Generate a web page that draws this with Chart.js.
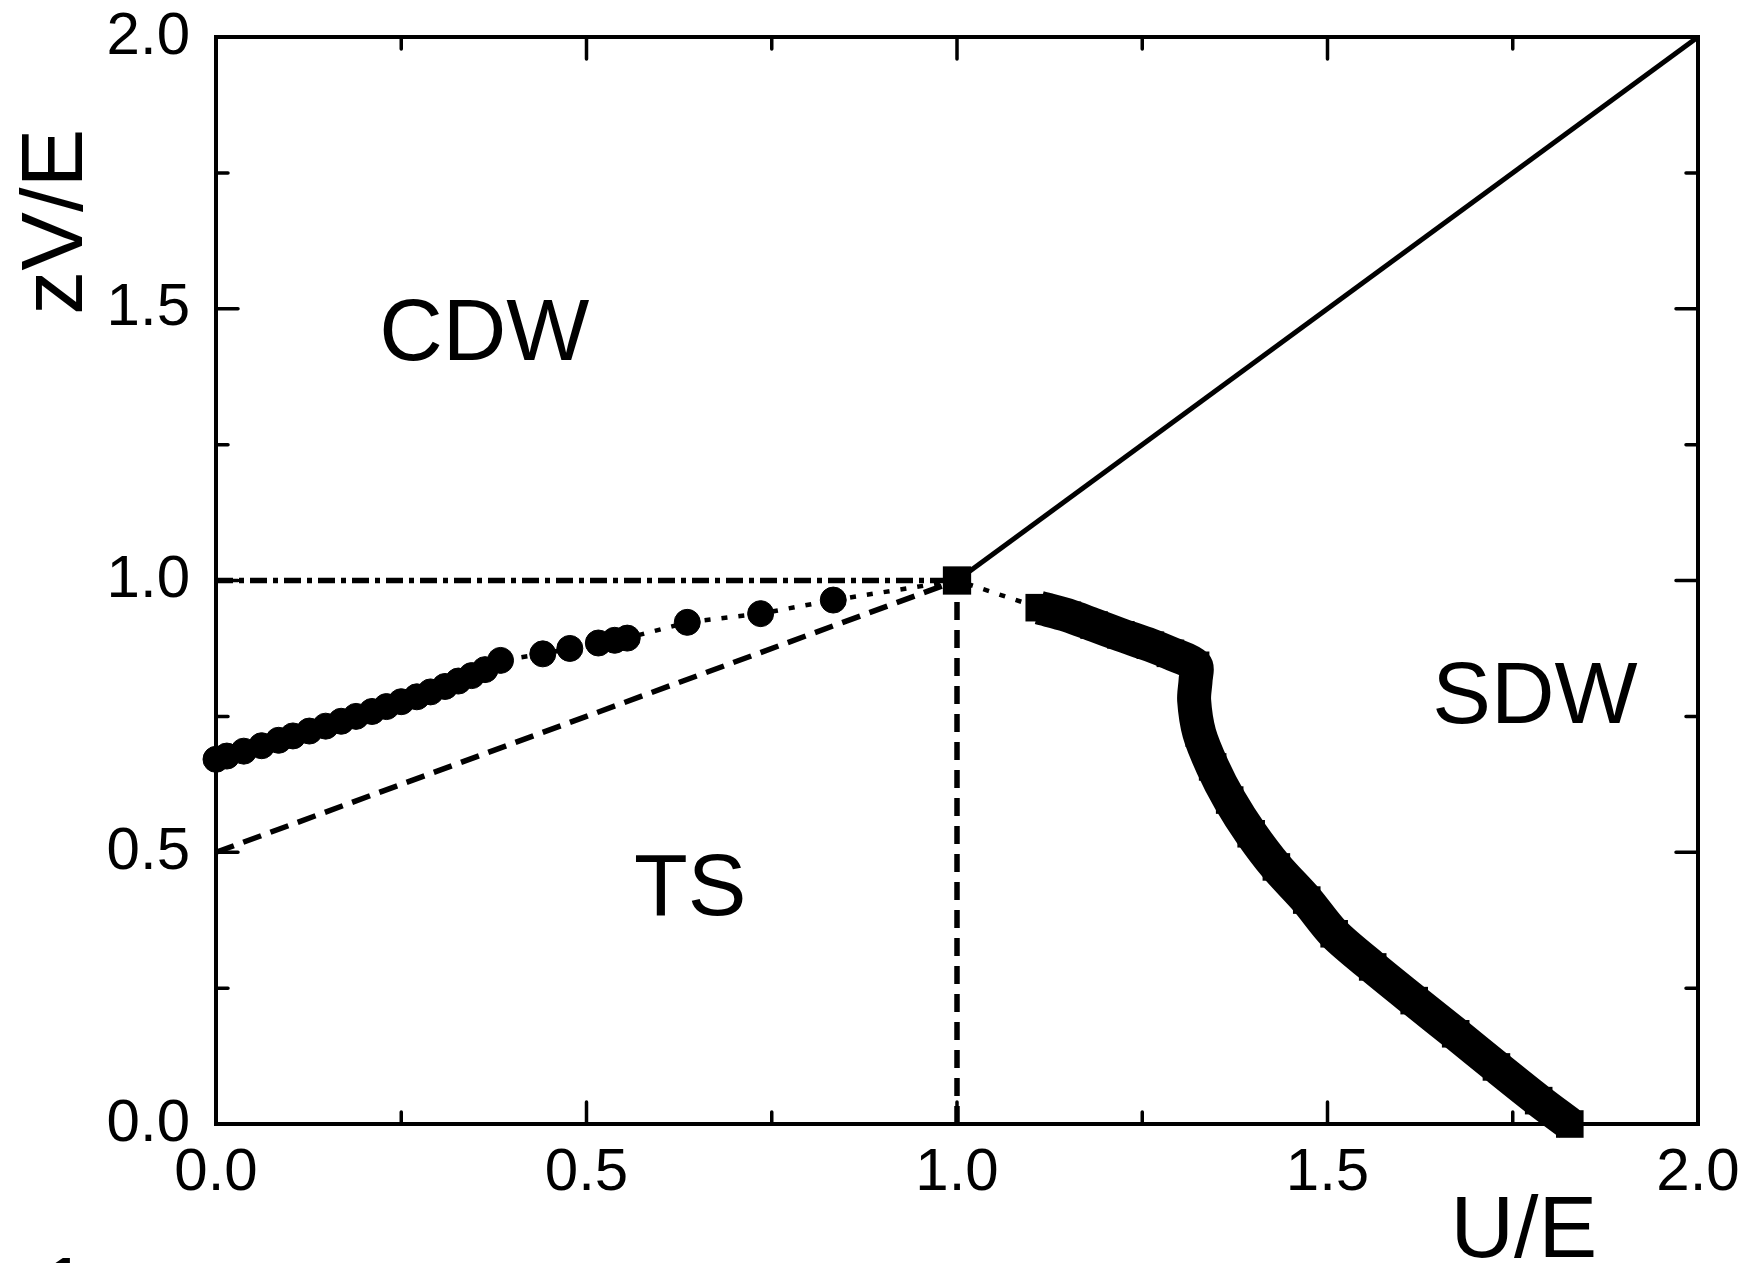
<!DOCTYPE html>
<html>
<head>
<meta charset="utf-8">
<title>Phase diagram</title>
<script src="https://cdn.jsdelivr.net/npm/chart.js@4.4.1/dist/chart.umd.min.js"></script>
<style>
  html, body { margin: 0; padding: 0; background: #fff; }
  #wrap { width: 1747px; height: 1263px; }
</style>
</head>
<body>
<div id="wrap"><canvas id="phaseChart" width="1747" height="1263"></canvas></div>
<script>

// axis ticks
const xTicks = [0, 0.5, 1, 1.5, 2];
const xTickLabels = ['0.0', '0.5', '1.0', '1.5', '2.0'];
const yTicks = [0, 0.5, 1, 1.5, 2];
const yTickLabels = ['0.0', '0.5', '1.0', '1.5', '2.0'];
const minorTicks = [0.25, 0.75, 1.25, 1.75];

// CDW / SDW boundary (solid)
const solidU = [1, 2];
const solidV = [1, 2];

// dash-dot line zV/E = 1
const dashDotU = [0, 1];
const dashDotV = [1, 1];

// dashed lines
const dashedU = [0, 1];
const dashedV = [0.5, 1];
const vertU = [1, 1];
const vertV = [0, 1];

// circles (dotted)
const circleU = [0, 0.0146, 0.0375, 0.0616, 0.0845, 0.1038, 0.126, 0.148, 0.169, 0.189,
  0.2105, 0.230, 0.250, 0.271, 0.2895, 0.309, 0.327, 0.345, 0.363, 0.384,
  0.441, 0.4775, 0.516, 0.538, 0.555, 0.636, 0.735, 0.833];
const circleV = [0.671, 0.677, 0.686, 0.696, 0.706, 0.714, 0.723, 0.732, 0.741, 0.750,
  0.759, 0.768, 0.777, 0.786, 0.795, 0.805, 0.815, 0.825, 0.836, 0.853,
  0.865, 0.875, 0.885, 0.890, 0.894, 0.923, 0.939, 0.964];

// dotted link through the tricritical point
const linkU = [0.833, 1, 1.111];
const linkV = [0.964, 1, 0.950];

// square at (1,1)
const squareU = [1];
const squareV = [1];

// SDW boundary (thick squares)
const sdwU = [1.111, 1.149, 1.185, 1.221, 1.261, 1.288, 1.322, 1.322, 1.320, 1.327,
  1.345, 1.368, 1.397, 1.431, 1.472, 1.509, 1.561, 1.617, 1.673, 1.728, 1.785, 1.827];
const sdwV = [0.950, 0.936, 0.918, 0.900, 0.881, 0.866, 0.844, 0.817, 0.780, 0.719,
  0.657, 0.596, 0.534, 0.473, 0.412, 0.350, 0.289, 0.227, 0.166, 0.105, 0.043, 0.0];

const pts = (us, vs) => us.map((u, i) => ({ x: u, y: vs[i] }));

const FONT = '"Liberation Sans", Arial, sans-serif';

const regionLabels = [
  { text: 'CDW', u: 0.362, v: 1.406 },
  { text: 'TS', u: 0.640, v: 0.384 },
  { text: 'SDW', u: 1.780, v: 0.738 }
];

const framePlugin = {
  id: 'frame',
  beforeDatasetsDraw(chart) {
    const { ctx, chartArea: a, scales: { x, y } } = chart;
    ctx.save();
    ctx.strokeStyle = '#000';
    ctx.lineWidth = 4;
    ctx.strokeRect(a.left, a.top, a.right - a.left, a.bottom - a.top);
    ctx.lineWidth = 3.5;
    ctx.lineCap = 'round';
    const markX = (vals, len) => vals.forEach(v => {
      const px = x.getPixelForValue(v);
      ctx.beginPath();
      ctx.moveTo(px, a.bottom); ctx.lineTo(px, a.bottom - len);
      ctx.moveTo(px, a.top); ctx.lineTo(px, a.top + len);
      ctx.stroke();
    });
    const markY = (vals, len) => vals.forEach(v => {
      const py = y.getPixelForValue(v);
      ctx.beginPath();
      ctx.moveTo(a.left, py); ctx.lineTo(a.left + len, py);
      ctx.moveTo(a.right, py); ctx.lineTo(a.right - len, py);
      ctx.stroke();
    });
    markX(xTicks, 22); markX(minorTicks, 12);
    markY(yTicks, 22); markY(minorTicks, 12);
    ctx.restore();
  },
  afterDraw(chart) {
    const { ctx, chartArea: a, scales: { x, y } } = chart;
    ctx.save();
    ctx.fillStyle = '#000';
    ctx.font = '88px ' + FONT;
    ctx.textAlign = 'center';
    ctx.textBaseline = 'alphabetic';
    regionLabels.forEach(l => ctx.fillText(l.text, x.getPixelForValue(l.u), y.getPixelForValue(l.v)));
    ctx.fillText('U/E', x.getPixelForValue(1.765), a.bottom + 133);
    ctx.save();
    ctx.translate(82, y.getPixelForValue(1.66));
    ctx.rotate(-Math.PI / 2);
    ctx.fillText('zV/E', 0, 0);
    ctx.restore();
    ctx.textAlign = 'left';
    ctx.fillText('1', 40, 1318);
    ctx.restore();
  }
};

const lineSet = (data, width, dash) => ({
  data, showLine: true, borderColor: '#000', borderWidth: width, borderDash: dash,
  pointRadius: 0, fill: false, clip: false
});

new Chart(document.getElementById('phaseChart'), {
  type: 'scatter',
  data: {
    datasets: [
      lineSet(pts(solidU, solidV), 5, []),
      lineSet(pts(dashDotU, dashDotV), 5.5, [17, 6, 5, 6]),
      lineSet(pts(dashedU, dashedV), 5.5, [19, 10]),
      lineSet(pts(vertU, vertV), 5.5, [18, 10]),
      lineSet(pts(linkU, linkV), 4.5, [6, 11]),
      {
        data: pts(circleU, circleV), showLine: true, borderColor: '#000', borderWidth: 4.5,
        borderDash: [6, 11], pointStyle: 'circle', pointRadius: 13, pointBorderWidth: 1,
        pointBackgroundColor: '#000', pointBorderColor: '#000', clip: false
      },
      {
        data: pts(squareU, squareV), showLine: false, pointStyle: 'rect', pointRadius: 20,
        pointBorderWidth: 0, pointBackgroundColor: '#000', clip: false
      },
      {
        data: pts(sdwU, sdwV), showLine: true, borderColor: '#000', borderWidth: 34,
        tension: 0.3, borderJoinStyle: 'round', pointStyle: 'rect', pointRadius: 19.5,
        pointBorderWidth: 0, pointBackgroundColor: '#000', clip: false
      }
    ]
  },
  options: {
    responsive: false,
    animation: false,
    events: [],
    layout: { padding: { top: 37, right: 49, left: 0, bottom: 0 } },
    plugins: { legend: { display: false }, tooltip: { enabled: false } },
    scales: {
      x: {
        type: 'linear', min: 0, max: 2,
        grid: { display: false, drawTicks: false }, border: { display: false },
        afterBuildTicks: s => { s.ticks = xTicks.map(v => ({ value: v })); },
        afterFit: s => { s.height = 139; s.paddingLeft = 0; s.paddingRight = 0; },
        ticks: {
          padding: 13, color: '#000', maxRotation: 0, autoSkip: false,
          font: { size: 60, family: FONT },
          callback: v => xTickLabels[xTicks.indexOf(v)]
        }
      },
      y: {
        type: 'linear', min: 0, max: 2,
        grid: { display: false, drawTicks: false }, border: { display: false },
        afterBuildTicks: s => { s.ticks = yTicks.map(v => ({ value: v })); },
        afterFit: s => { s.width = 216; s.paddingTop = 0; s.paddingBottom = 0; },
        ticks: {
          padding: 26, color: '#000', autoSkip: false,
          font: { size: 60, family: FONT },
          callback: v => yTickLabels[yTicks.indexOf(v)]
        }
      }
    }
  },
  plugins: [framePlugin]
});
</script>
</body>
</html>
